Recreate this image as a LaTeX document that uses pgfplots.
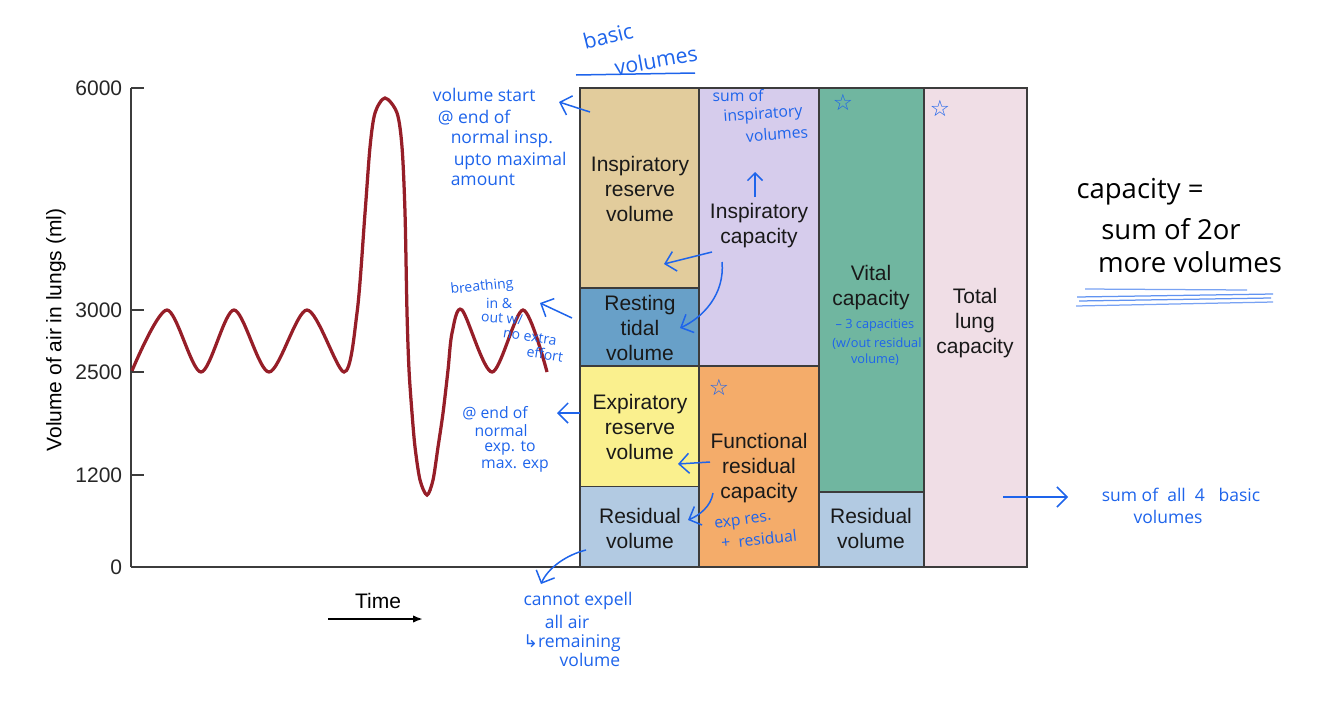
\documentclass[border=0pt]{standalone}
\usepackage{pgfplots}
\pgfplotsset{compat=1.18}
\usepackage{fontspec}
\setmainfont{Liberation Sans}
\newfontfamily\hand{Open Sans}
\newfontfamily\symb{DejaVu Sans}
\usetikzlibrary{arrows.meta}

\definecolor{irv}{RGB}{226,204,156}
\definecolor{tidal}{RGB}{104,160,200}
\definecolor{erv}{RGB}{250,240,142}
\definecolor{resid}{RGB}{178,202,226}
\definecolor{icap}{RGB}{214,204,236}
\definecolor{frc}{RGB}{244,172,106}
\definecolor{vcap}{RGB}{112,182,160}
\definecolor{tlc}{RGB}{240,222,230}
\definecolor{trace}{RGB}{150,30,40}
\definecolor{ink}{RGB}{30,100,235}
\definecolor{frame}{RGB}{60,60,60}

\newcommand\barfont{\fontsize{8.4}{10}\selectfont}
\newcommand\hw{\hand\fontsize{7}{8.8}\selectfont}
\newcommand\hwm{\hand\fontsize{6.3}{8}\selectfont}
\newcommand\hwt{\hand\fontsize{5.6}{7}\selectfont}
\newcommand\hws{\hand\fontsize{5.1}{6}\selectfont}
\newcommand\hwl{\hand\fontsize{8.5}{10}\selectfont}
\newcommand\hwb{\hand\fontsize{11}{13}\selectfont}
\newcommand\hstar{\symb\fontsize{9}{9}\selectfont ☆}

\begin{document}
% 1 unit = 1 pixel of the reference
\begin{tikzpicture}[x=0.4pt,y=0.4pt]
\path (0,0) rectangle (1334,703);

\begin{axis}[
  at={(131,136)}, anchor=south west,
  scale only axis, width=358.4pt, height=191.6pt,
  xmin=0, xmax=896, ymin=0, ymax=6000,
  clip=false,
  % the printed scale is not linear: stretch each band as the figure does
  y coord trafo/.code={\pgfmathparse{(#1<=1200)*(#1*0.0766667)+and(#1>1200,#1<=2500)*(92+(#1-1200)*0.0792308)+and(#1>2500,#1<=3000)*(195+(#1-2500)*0.124)+(#1>3000)*(257+(#1-3000)*0.074)}},
  ytick={0,1200,2500,3000,6000},
  yticklabels={0,1200,2500,3000,6000},
  xtick=\empty,
  axis x line*=bottom, axis y line*=left,
  axis line style={draw=frame, line width=0.6pt},
  tick align=inside, major tick length=5.2pt,
  ytick style={draw=frame, line width=0.6pt},
  yticklabel style={font=\barfont, text=black!85},
  /pgf/number format/assume math mode=true,
]
% column 1: basic volumes
\addplot[draw=frame, fill=resid, line width=0.6pt] coordinates {(449,0) (568,0) (568,1050) (449,1050)} -- cycle;
\addplot[draw=frame, fill=erv, line width=0.6pt] coordinates {(449,1050) (568,1050) (568,2550) (449,2550)} -- cycle;
\addplot[draw=frame, fill=tidal, line width=0.6pt] coordinates {(449,2550) (568,2550) (568,3300) (449,3300)} -- cycle;
\addplot[draw=frame, fill=irv, line width=0.6pt] coordinates {(449,3300) (568,3300) (568,6000) (449,6000)} -- cycle;
% column 2
\addplot[draw=frame, fill=frc, line width=0.6pt] coordinates {(568,0) (688,0) (688,2550) (568,2550)} -- cycle;
\addplot[draw=frame, fill=icap, line width=0.6pt] coordinates {(568,2550) (688,2550) (688,6000) (568,6000)} -- cycle;
% column 3
\addplot[draw=frame, fill=resid, line width=0.6pt] coordinates {(688,0) (793,0) (793,980) (688,980)} -- cycle;
\addplot[draw=frame, fill=vcap, line width=0.6pt] coordinates {(688,980) (793,980) (793,6000) (688,6000)} -- cycle;
% column 4
\addplot[draw=frame, fill=tlc, line width=0.6pt] coordinates {(793,0) (896,0) (896,6000) (793,6000)} -- cycle;

% spirometer trace
\addplot[trace, line width=1.3pt, smooth] coordinates {
(1,2510) (36,3000) (70,2500) (103,3000) (138,2500) (176,3000) (213,2500)
(226,2976) (234,4311) (239,5202) (244,5662) (254,5865)
(266,5662) (271,5202) (274,4311) (276,2976) (278,2516) (281,1982)
(284,1553) (289,1135) (296,939) (302,1135) (307,1553) (312,1982)
(317,2516) (321,2814) (331,3000) (361,2500) (392,3000) (416,2500)
};
\end{axis}

% texts placed in reference pixels, y counted downwards
\begin{scope}[shift={(0,703)}, yscale=-1]
\node[rotate=90, font=\barfont] at (56,330) {Volume of air in lungs (ml)};
\node[font=\barfont] at (378,601) {Time};
\draw[-{Latex[length=4pt,width=3pt]}, line width=1pt] (328,619) -- (423,619);

% box labels
\begin{scope}[every node/.style={align=center, font=\barfont, text=black!90}]
\node at (640,189) {Inspiratory\\reserve\\volume};
\node at (640,328) {Resting\\tidal\\volume};
\node at (640,427) {Expiratory\\reserve\\volume};
\node at (640,528) {Residual\\volume};
\node at (759,226) {Inspiratory\\capacity};
\node at (759,468) {Functional\\residual\\capacity};
\node at (871,288) {Vital\\capacity};
\node at (871,528) {Residual\\volume};
\node at (975,323) {Total\\lung\\capacity};
\end{scope}

% handwritten notes
\begin{scope}[ink, every node/.style={font=\hw, inner sep=0pt}, line width=0.6pt]
\node[font=\hwl, rotate=14] at (608,36) {basic};
\node[font=\hwl, rotate=10] at (656,60) {volumes};
\draw (576,75) -- (695,73);

\node[anchor=base west] at (432,101) {volume start};
\node[anchor=base west] at (437,123) {@ end of};
\node[anchor=base west] at (450,143) {normal insp.};
\node[anchor=base west] at (453,165) {upto maximal};
\node[anchor=base west] at (450,185) {amount};
\draw[-{Straight Barb[length=4pt]}] (590,112) -- (559,102);

\node[font=\hwt, rotate=6] at (482,287) {breathing};
\node[font=\hwt] at (499,303) {in \&};
\node[font=\hwt, rotate=-4] at (502,318) {out w/};
\node[font=\hwt, rotate=-9] at (530,337) {no extra};
\node[font=\hwt, rotate=-9] at (545,354) {effort};
\draw[-{Straight Barb[length=4pt]}] (572,318) -- (540,303);

\node[font=\hwm] at (495,413) {@ end of};
\node[font=\hwm] at (501,431) {normal};
\node[font=\hwm] at (510,448) {exp. to};
\node[font=\hwm] at (515,466) {max. exp};
\draw[-{Straight Barb[length=4pt]}] (580,413) -- (557,413);

\node at (578,601) {cannot expell};
\node at (567,622) {all air};
\node at (572,643) {{\symb ↳}remaining};
\node at (590,660) {volume};
\draw[-{Straight Barb[length=4pt]}] (586,550) .. controls (566,555) and (548,568) .. (541,584);

\node[font=\hwm] at (738,96) {sum of};
\node[font=\hwm, rotate=4] at (763,115) {inspiratory};
\node[font=\hwm, rotate=4] at (777,134) {volumes};
\draw[-{Straight Barb[length=3pt]}] (755,197) -- (755,172);
\draw[-{Straight Barb[length=4pt]}] (712,252) -- (664,264);
\draw[-{Straight Barb[length=4pt]}] (722,262) .. controls (725,295) and (702,318) .. (680,328);

\node at (719,387) {\hstar};
\draw[-{Straight Barb[length=4pt]}] (710,462) -- (678,464);
\draw[-{Straight Barb[length=4pt]}] (713,493) .. controls (711,506) and (700,515) .. (688,520);
\node[font=\hwm, rotate=8] at (743,522) {exp res.};
\node[font=\hwm, rotate=6] at (759,539) {+\ \ residual};

\node at (843,102) {\hstar};
\node[font=\hws] at (875,325) {– 3 capacities};
\node[font=\hws] at (877,344) {(w/out residual};
\node[font=\hws] at (875,360) {volume)};

\node at (940,108) {\hstar};

\draw[-{Straight Barb[length=4pt]}] (1003,497) -- (1068,497);
\node at (1181,495) {sum\ of\ \ all\ \ 4\ \ \ basic};
\node at (1168,517) {volumes};

\node[text=black, font=\hwb] at (1140,192) {capacity =};
\node[text=black, font=\hwb] at (1171,229) {sum of 2or};
\node[text=black, font=\hwb] at (1190,262) {more volumes};
\draw[ink!60, line width=0.5pt] (1085,289) -- (1247,290);
\draw[ink!70, line width=0.5pt] (1077,297) -- (1273,294);
\draw[ink!70, line width=0.5pt] (1079,301) -- (1271,298);
\draw[ink!60, line width=0.5pt] (1076,306) -- (1273,302);
\end{scope}
\end{scope}
\end{tikzpicture}
\end{document}
